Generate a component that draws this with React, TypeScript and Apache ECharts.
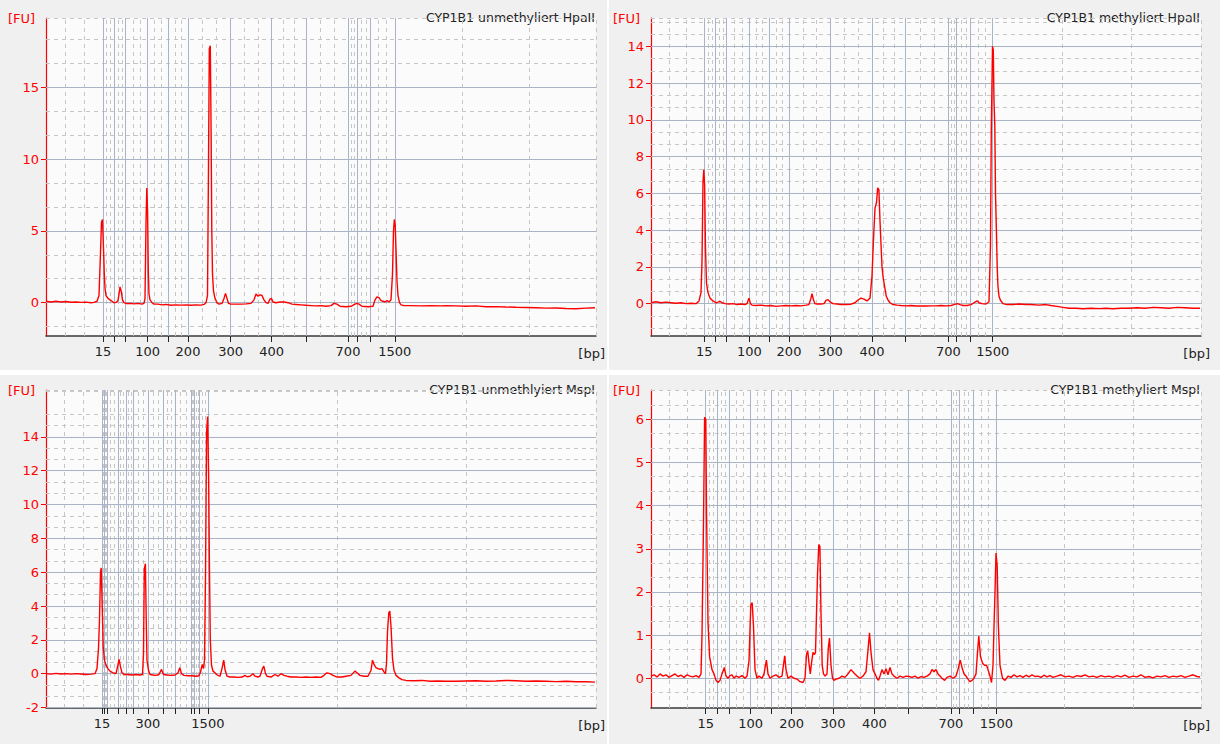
import React, { useEffect, useRef } from "react";
import * as echarts from "echarts";

// ---- Data -----------------------------------------------------------------
// x values are migration positions (arbitrary units, 0..550 across each plot)
const LADDER_BP = [15, 25, 50, 100, 150, 200, 300, 400, 500, 700, 850, 1000, 1500];
const LABELED_BP = [15, 100, 200, 300, 400, 700, 1500];
const LABELED_BP_P3 = [15, 300, 1500];

const TITLES = [
  "CYP1B1 unmethyliert HpaII",
  "CYP1B1 methyliert HpaII",
  "CYP1B1 unmethlyiert MspI",
  "CYP1B1 methyliert MspI",
];

const LADDER_POS_1 = [57, 68.2, 79.7, 101.7, 122.2, 142, 184.7, 225.7, 259.8, 302, 310.8, 324.4, 348.8];
const LADDER_POS_2 = [53.3, 64.7, 75.7, 98.3, 118.3, 138, 179.3, 221, 254.7, 297.3, 305.7, 319.7, 341.7];
const LADDER_POS_3 = [56, 58.5, 61, 72, 80, 87.2, 101.9, 117, 129.6, 144.9, 148.2, 153.6, 161.9];
const LADDER_POS_4 = [54.7, 66, 78.3, 99.7, 120.7, 140.7, 182, 223.3, 257.3, 299.9, 308.4, 322.4, 345.4];

const Y_MIN = [-2.32, -1.76, -2.03, -0.69];
const Y_MAX = [19.84, 15.54, 16.77, 6.68];
const Y_TICKS_1 = [0, 5, 10, 15];
const Y_TICKS_2 = [0, 2, 4, 6, 8, 10, 12, 14];
const Y_TICKS_3 = [-2, 0, 2, 4, 6, 8, 10, 12, 14];
const Y_TICKS_4 = [0, 1, 2, 3, 4, 5, 6];

const TRACE_1: number[][] = [
  [0, 0.1], [5, 0.05], [10, 0.1], [15, 0.05], [20, 0.08], [25, 0.03], [30, 0.05], [35, 0.02], [40, 0.04], [45, 0.0],
  [48, 0.02], [51, 0.1], [53, 0.5], [54.5, 3.5], [55.5, 5.6], [56.5, 5.8], [57.5, 3.8], [58.3, 2.0], [59, 1.0], [60, 0.5],
  [62, 0.3], [64, 0.2], [66, 0.1], [68, 0.0], [70, 0.02], [72, 0.15], [73, 0.6], [74, 1.1], [75.2, 0.8], [76.5, 0.2],
  [78, 0.0], [80, -0.05], [85, -0.05], [88, -0.08], [92, -0.05], [96, -0.1], [98, -0.05], [99, 0.3], [100, 5.5], [100.8, 8.0],
  [101.6, 6.3], [102.3, 2.2], [103, 0.6], [104, 0.2], [106, 0.0], [108, -0.1], [112, -0.1], [116, -0.15], [120, -0.12], [125, -0.18],
  [130, -0.15], [135, -0.17], [140, -0.15], [145, -0.18], [150, -0.15], [155, -0.17], [158, -0.12], [160, 0.0], [161.5, 0.5], [162.5, 9.5],
  [163.3, 17.7], [164.3, 17.9], [165.1, 12.0], [165.8, 5.0], [166.5, 2.0], [167.5, 0.8], [169, 0.3], [171, 0.0], [173, -0.1], [176, -0.05],
  [178, 0.3], [179.5, 0.65], [181, 0.3], [182.5, -0.05], [185, -0.1], [190, -0.1], [195, -0.1], [200, -0.08], [205, -0.05], [208, 0.2],
  [210, 0.6], [212, 0.45], [214, 0.55], [216, 0.5], [218, 0.2], [220, 0.0], [222, -0.05], [224, 0.25], [225.5, 0.3], [227, 0.05],
  [230, 0.0], [234, 0.05], [238, 0.05], [242, 0.0], [246, -0.1], [250, -0.12], [255, -0.15], [260, -0.18], [265, -0.2], [270, -0.22],
  [275, -0.2], [280, -0.25], [285, -0.2], [288, -0.05], [291, -0.1], [294, -0.25], [300, -0.28], [305, -0.25], [309, -0.1], [311, -0.05],
  [313, -0.1], [316, -0.25], [322, -0.28], [327, -0.25], [329, 0.2], [331, 0.4], [333, 0.35], [335, 0.15], [337, 0.1], [339, 0.05],
  [341, 0.15], [343, 0.05], [345, 0.2], [346.5, 2.0], [347.5, 5.0], [348.3, 5.8], [349.2, 5.4], [350, 3.7], [351, 1.5], [352, 0.5],
  [353.5, 0.0], [355, -0.15], [358, -0.2], [365, -0.2], [375, -0.22], [385, -0.2], [395, -0.22], [400, -0.2], [410, -0.22], [420, -0.25],
  [430, -0.22], [440, -0.28], [450, -0.27], [460, -0.3], [470, -0.32], [480, -0.33], [490, -0.35], [500, -0.38], [510, -0.37], [520, -0.4],
  [530, -0.42], [540, -0.38], [549, -0.35],
];

const TRACE_2: number[][] = [
  [0, 0.05], [5, 0.1], [10, 0.05], [15, 0.08], [20, 0.05], [25, 0.02], [30, 0.05], [35, 0.0], [40, 0.02], [45, 0.0],
  [48, 0.15], [50, 0.6], [51, 2.3], [52, 6.6], [52.8, 7.3], [53.6, 6.5], [54.5, 3.0], [55.5, 1.1], [57, 0.6], [59, 0.3],
  [62, 0.15], [65, 0.05], [67, 0.08], [69, 0.12], [71, 0.05], [74, 0.0], [78, -0.02], [82, 0.0], [86, -0.05], [90, -0.02],
  [94, -0.05], [96, 0.0], [97.9, 0.3], [99.5, 0.0], [101, -0.08], [105, -0.1], [110, -0.08], [115, -0.12], [120, -0.1], [125, -0.15],
  [130, -0.12], [135, -0.1], [140, -0.12], [145, -0.1], [150, -0.12], [155, -0.08], [158, -0.05], [160, 0.3], [161, 0.55], [162.5, 0.2],
  [164, 0.0], [166, -0.02], [170, -0.02], [173, 0.0], [175, 0.18], [177, 0.22], [179, 0.1], [182, 0.0], [186, -0.02], [190, -0.05],
  [195, -0.05], [200, -0.03], [204, 0.05], [207, 0.2], [210, 0.3], [213, 0.25], [216, 0.15], [219, 0.3], [221, 1.5], [222.5, 3.5],
  [224, 5.2], [225.5, 5.5], [226.7, 6.3], [227.9, 6.2], [229, 4.5], [229.8, 3.5], [231, 2.0], [232.2, 1.4], [234, 0.8], [235.3, 0.4],
  [237, 0.2], [239, 0.05], [242, -0.05], [246, -0.08], [250, -0.1], [255, -0.12], [260, -0.1], [265, -0.13], [270, -0.12], [275, -0.13],
  [280, -0.12], [285, -0.12], [290, -0.1], [295, -0.12], [300, -0.1], [303, -0.05], [306.5, 0.0], [309, -0.05], [312, -0.1], [316, -0.1],
  [320, -0.05], [323, 0.05], [326.3, 0.15], [328, 0.05], [331, 0.0], [335, -0.02], [338, 0.1], [339.5, 3.2], [340.3, 9.4], [341.5, 14.0],
  [342.3, 13.8], [343, 11.0], [343.8, 9.7], [344.5, 6.0], [345.4, 4.0], [346.2, 2.0], [346.9, 1.0], [348, 0.4], [349.3, 0.2], [352, 0.0],
  [356, -0.05], [362, -0.05], [368, -0.02], [375, -0.05], [380, -0.05], [388, -0.08], [395, -0.05], [400, -0.1], [406, -0.15], [412, -0.2],
  [418, -0.25], [425, -0.25], [432, -0.28], [440, -0.25], [448, -0.27], [455, -0.25], [462, -0.28], [470, -0.25], [478, -0.25], [486, -0.22],
  [494, -0.25], [502, -0.2], [510, -0.22], [518, -0.25], [526, -0.2], [534, -0.22], [542, -0.25], [549, -0.25],
];

const TRACE_3: number[][] = [
  [0, 0.0], [5, -0.03], [10, 0.02], [15, -0.02], [20, 0.0], [25, -0.03], [30, 0.0], [35, -0.02], [40, -0.05], [45, -0.03],
  [49, 0.0], [51, 0.3], [52.5, 1.5], [53.5, 3.2], [54.5, 6.0], [55.2, 6.25], [56, 4.5], [57.2, 1.6], [58.5, 0.8], [60, 0.5],
  [62, 0.3], [64, 0.15], [67, 0.05], [70, 0.0], [71.5, 0.4], [73.1, 0.85], [74.5, 0.4], [76, 0.05], [78, -0.05], [82, -0.05],
  [86, -0.08], [90, -0.05], [94, -0.08], [96.5, -0.05], [97.5, 1.2], [98.3, 6.2], [99.4, 6.5], [100.3, 3.0], [101, 0.8], [102.5, 0.2],
  [104, -0.05], [107, -0.08], [110, -0.1], [113, -0.05], [115.5, 0.25], [117.5, -0.05], [121, -0.08], [125, -0.1], [129, -0.08], [132, 0.05],
  [133.8, 0.35], [135.5, 0.0], [138, -0.1], [142, -0.12], [146, -0.12], [150, -0.15], [153, -0.12], [154.5, 0.1], [156.3, 0.55], [157.5, 0.3],
  [158.5, 0.8], [159.5, 5.8], [160.6, 14.3], [161.6, 15.2], [162.6, 11.8], [163.5, 6.0], [164.3, 2.0], [165.5, 0.5], [167, 0.15], [169, 0.05],
  [170.5, -0.05], [172, -0.1], [174, -0.15], [176, 0.3], [177.7, 0.8], [179, 0.25], [181, -0.15], [184, -0.2], [188, -0.2], [192, -0.22],
  [196, -0.2], [199, -0.1], [201, -0.18], [204, -0.15], [207, 0.0], [209, -0.15], [212, -0.2], [214, -0.15], [216.5, 0.3], [217.8, 0.45],
  [219.5, 0.0], [221, -0.15], [225, -0.2], [229, -0.05], [232, -0.15], [235, 0.0], [238, -0.1], [241, -0.15], [245, -0.2], [250, -0.2],
  [255, -0.22], [260, -0.2], [265, -0.22], [270, -0.2], [275, -0.22], [278, -0.1], [280.8, 0.05], [284, 0.0], [287, -0.1], [291, -0.2],
  [296, -0.2], [300, -0.15], [305, -0.1], [308.9, 0.15], [311, 0.05], [314, -0.1], [318, -0.15], [322, -0.15], [325, 0.2], [326.5, 0.8],
  [328, 0.55], [330, 0.35], [332, 0.3], [334, 0.25], [336, 0.3], [338, 0.1], [339.5, 0.0], [340.5, 0.6], [341.5, 2.5], [342.8, 3.6],
  [343.8, 3.7], [345, 2.8], [346.5, 0.9], [348, 0.2], [350, -0.1], [353, -0.25], [356, -0.35], [360, -0.4], [368, -0.42], [376, -0.4],
  [384, -0.45], [392, -0.43], [400, -0.45], [410, -0.45], [420, -0.43], [430, -0.42], [440, -0.45], [450, -0.43], [460, -0.4], [470, -0.42],
  [480, -0.45], [490, -0.43], [500, -0.45], [510, -0.47], [520, -0.45], [530, -0.48], [540, -0.48], [549, -0.5],
];

const TRACE_4: number[][] = [
  [0, 0.05], [3, 0.08], [6, 0.03], [9, 0.1], [12, 0.05], [15, 0.08], [18, 0.02], [21, 0.06], [24, 0.1], [27, 0.04],
  [30, 0.07], [33, 0.02], [36, 0.08], [39, 0.05], [42, 0.03], [45, 0.06], [48, 0.02], [50, 0.1], [51, 1.0], [52.5, 3.6],
  [53.6, 6.05], [54.8, 6.0], [55.5, 3.9], [57, 1.3], [58.6, 0.5], [61, 0.2], [63, 0.1], [65, -0.05], [67, -0.1], [69, -0.05],
  [71, 0.1], [73.4, 0.25], [75, 0.05], [77, 0.0], [79, 0.06], [81, 0.08], [83, 0.0], [85, 0.05], [88, 0.02], [91, 0.06],
  [94, 0.0], [96, 0.05], [98, 0.4], [99.8, 1.7], [101.2, 1.75], [102.5, 1.2], [104, 0.2], [106, 0.0], [108, 0.05], [111, 0.0],
  [113, 0.1], [115.4, 0.42], [117, 0.1], [119, 0.0], [122, 0.05], [125, 0.08], [128, 0.02], [131, 0.05], [133.7, 0.52], [135, 0.2],
  [137, 0.0], [140, 0.05], [143, 0.0], [146, -0.02], [149, -0.08], [152, -0.1], [154, 0.0], [155.5, 0.55], [156.7, 0.64], [158, 0.35],
  [159.3, 0.1], [160.5, 0.35], [162, 0.6], [163.5, 0.55], [164.5, 0.6], [165.5, 1.5], [166.5, 2.4], [167.8, 3.1], [168.9, 3.05], [170, 1.5],
  [171.2, 0.3], [172.5, 0.1], [174, 0.05], [176, 0.1], [177.3, 0.7], [178.5, 0.93], [180, 0.3], [181.5, 0.0], [183, -0.05], [185, -0.02],
  [188, 0.0], [191, 0.05], [194, 0.02], [197, 0.1], [200, 0.2], [203, 0.12], [206, 0.05], [209, 0.0], [212, 0.05], [215, 0.15],
  [216.8, 0.6], [218.5, 1.05], [220, 0.6], [222, 0.2], [224, 0.1], [226, 0.0], [227.5, -0.05], [229, 0.05], [231, 0.2], [233, 0.1],
  [235, 0.22], [237, 0.08], [239, 0.25], [241, 0.1], [243, 0.05], [246, 0.0], [249, 0.05], [252, 0.02], [255, 0.05], [258, 0.04],
  [261, 0.02], [264, 0.05], [267, 0.0], [270, 0.04], [273, 0.02], [276, 0.05], [279, 0.1], [281, 0.2], [283, 0.15], [285, 0.2],
  [287, 0.1], [289, 0.05], [291, 0.0], [293.6, -0.05], [296, 0.02], [299, 0.05], [302, 0.0], [305, 0.05], [307, 0.2], [309.2, 0.42],
  [311, 0.25], [313, 0.1], [315, 0.05], [317, -0.02], [319, -0.08], [321, -0.05], [323, 0.0], [325, 0.1], [326.5, 0.6], [327.8, 0.98],
  [329.5, 0.5], [331.5, 0.35], [333.5, 0.3], [335.5, 0.3], [337, 0.2], [339, 0.05], [340.5, -0.1], [342, 0.3], [343, 1.2], [344, 2.0],
  [345, 2.9], [346.2, 2.6], [347.4, 1.2], [349, 0.3], [351.5, 0.0], [354, -0.05], [357, 0.05], [360, 0.02], [363, 0.08], [366, 0.03],
  [369, 0.06], [372, 0.02], [375, 0.07], [378, 0.03], [381, 0.08], [384, 0.04], [387, 0.05], [390, 0.02], [393, 0.07], [396, 0.03],
  [399, 0.06], [402, 0.02], [406, 0.05], [410, 0.08], [414, 0.03], [418, 0.05], [422, 0.02], [426, 0.06], [430, 0.04], [434, 0.08],
  [438, 0.03], [442, 0.05], [446, 0.02], [450, 0.06], [454, 0.03], [458, 0.05], [462, 0.02], [466, 0.06], [470, 0.03], [474, 0.07],
  [478, 0.02], [482, 0.05], [486, 0.03], [490, 0.08], [494, 0.02], [498, 0.04], [502, 0.01], [506, 0.05], [510, 0.03], [514, 0.06],
  [518, 0.02], [522, 0.05], [526, 0.03], [530, 0.06], [534, 0.02], [538, 0.05], [542, 0.08], [546, 0.04], [549, 0.03],
];

// ---- Layout / style ---------------------------------------------------------
const X_MAX = 550;
const GRID_LEFT = [46, 651, 46, 651];
const GRID_TOP = [18, 18, 390, 390];
const GRID_W = 550;
const GRID_H = 318;
const FONT = "Tahoma, 'DejaVu Sans', sans-serif";
const RED = "#ff0000";
const MAJOR_GRID = "#a9b4c6";
const MINOR_GRID = "#c6c6c6";

const PANELS = [
  { ladder: LADDER_POS_1, labeled: LABELED_BP, trace: TRACE_1, yTicks: Y_TICKS_1, step: 5 },
  { ladder: LADDER_POS_2, labeled: LABELED_BP, trace: TRACE_2, yTicks: Y_TICKS_2, step: 2 },
  { ladder: LADDER_POS_3, labeled: LABELED_BP_P3, trace: TRACE_3, yTicks: Y_TICKS_3, step: 2 },
  { ladder: LADDER_POS_4, labeled: LABELED_BP, trace: TRACE_4, yTicks: Y_TICKS_4, step: 1 },
];

function thirds(ticks: number[]): number[] {
  const out: number[] = [];
  for (let i = 0; i < ticks.length - 1; i++) {
    const a = ticks[i];
    const b = ticks[i + 1];
    out.push(a + (b - a) / 3, a + (2 * (b - a)) / 3);
  }
  return out;
}

function minorY(min: number, max: number, step: number): number[] {
  const m = step / 3;
  const pad = (max - min) * 0.012;
  const out: number[] = [];
  for (let k = Math.ceil(min / m); k <= Math.floor(max / m); k++) {
    const v = k * m;
    if (k % 3 !== 0 && v - min > pad) out.push(v);
  }
  return out;
}

function buildOption() {
  const grid: any[] = [];
  const xAxis: any[] = [];
  const yAxis: any[] = [];
  const series: any[] = [];
  const dashed = { color: MINOR_GRID, type: [4, 4], width: 1 };
  const solid = { color: MAJOR_GRID, type: "solid", width: 1 };

  PANELS.forEach((p, i) => {
    const yMin = Y_MIN[i];
    const yMax = Y_MAX[i];
    grid.push({
      left: GRID_LEFT[i],
      top: GRID_TOP[i],
      width: GRID_W,
      height: GRID_H,
      show: true,
      backgroundColor: "#fbfbfb",
      borderWidth: 0,
    });
    const labeledPos = p.labeled.map((bp) => p.ladder[LADDER_BP.indexOf(bp)]);
    xAxis.push({
      type: "value",
      gridIndex: i,
      min: 0,
      max: X_MAX,
      axisLine: { show: true, onZero: false, lineStyle: { color: "#3a3a3a", width: 1.5 } },
      axisTick: { show: true, customValues: p.ladder, length: 6, lineStyle: { color: "#222", width: 1 } },
      axisLabel: {
        customValues: labeledPos,
        color: "#222",
        fontSize: 13,
        fontFamily: FONT,
        margin: 9,
        formatter: (v: number) => {
          const idx = p.ladder.findIndex((q) => Math.abs(q - v) < 0.01);
          return idx >= 0 ? String(LADDER_BP[idx]) : "";
        },
      },
      splitLine: { show: false },
    });
    yAxis.push({
      type: "value",
      gridIndex: i,
      min: yMin,
      max: yMax,
      axisLine: { show: true, onZero: false, lineStyle: { color: RED, width: 1.2 } },
      axisTick: { show: true, customValues: p.yTicks, length: 5, lineStyle: { color: RED } },
      axisLabel: { customValues: p.yTicks, color: RED, fontSize: 13, fontFamily: FONT, margin: 7 },
      splitLine: { show: false },
    });

    const xMinor = thirds([0, ...p.ladder, X_MAX]);
    const yMinor = minorY(yMin, yMax, p.step);
    series.push({
      type: "line",
      xAxisIndex: i,
      yAxisIndex: i,
      data: [[0, 0]],
      symbol: "none",
      lineStyle: { opacity: 0 },
      silent: true,
      z: 1,
      markLine: {
        z: 1,
        silent: true,
        symbol: ["none", "none"],
        label: { show: false },
        emphasis: { disabled: true },
        data: [
          ...xMinor.map((v) => ({ xAxis: v, lineStyle: dashed })),
          ...yMinor.map((v) => ({ yAxis: v, lineStyle: dashed })),
          { xAxis: X_MAX, lineStyle: dashed },
          { yAxis: yMax, lineStyle: dashed },
          ...p.yTicks.map((v) => ({ yAxis: v, lineStyle: solid })),
          ...p.ladder.map((v) => ({ xAxis: v, lineStyle: solid })),
        ],
      },
    });
    series.push({
      type: "line",
      xAxisIndex: i,
      yAxisIndex: i,
      data: p.trace,
      symbol: "none",
      silent: true,
      z: 10,
      lineStyle: { color: RED, width: 1.4 },
    });
  });

  const texts: any[] = [];
  const panelX = [0, 605];
  const panelY = [0, 372];
  PANELS.forEach((_, i) => {
    const ox = panelX[i % 2];
    const oy = panelY[Math.floor(i / 2)];
    texts.push({
      type: "text",
      x: ox + 8,
      y: oy + 18,
      silent: true,
      style: { text: "[FU]", fill: RED, font: `13px ${FONT}`, align: "left", verticalAlign: "middle" },
    });
    texts.push({
      type: "text",
      x: ox + 605,
      y: oy + 353,
      silent: true,
      style: { text: "[bp]", fill: "#222", font: `13px ${FONT}`, align: "right", verticalAlign: "middle" },
    });
    texts.push({
      type: "text",
      x: ox + 595,
      y: oy + 17,
      silent: true,
      style: { text: TITLES[i], fill: "#222", font: `12.5px ${FONT}`, align: "right", verticalAlign: "middle" },
    });
  });

  return {
    animation: false,
    backgroundColor: "transparent",
    grid,
    xAxis,
    yAxis,
    series,
    graphic: { elements: texts },
  };
}

export default function App() {
  const ref = useRef<HTMLDivElement | null>(null);
  useEffect(() => {
    if (!ref.current) return;
    const chart = echarts.init(ref.current, undefined, { renderer: "svg" });
    chart.setOption(buildOption() as any);
    return () => chart.dispose();
  }, []);

  const bg = { position: "absolute" as const, background: "#f0f0f0" };
  return (
    <div style={{ position: "fixed", left: 0, top: 0, width: 1220, height: 744, background: "#ffffff" }}>
      <div style={{ ...bg, left: 0, top: 0, width: 607, height: 370 }} />
      <div style={{ ...bg, left: 609, top: 0, width: 611, height: 370 }} />
      <div style={{ ...bg, left: 0, top: 375, width: 607, height: 369 }} />
      <div style={{ ...bg, left: 609, top: 375, width: 611, height: 369 }} />
      <div ref={ref} style={{ position: "absolute", left: 0, top: 0, width: 1220, height: 744 }} />
    </div>
  );
}
